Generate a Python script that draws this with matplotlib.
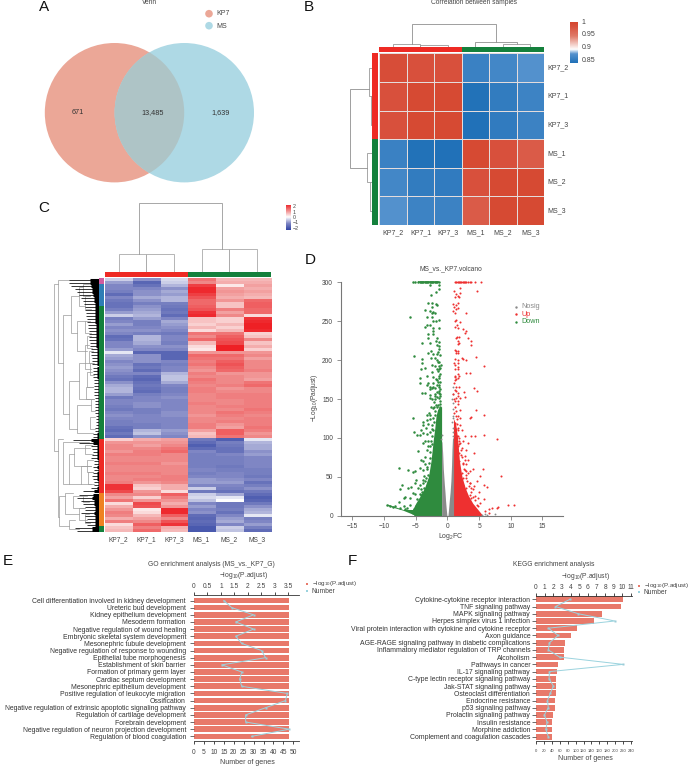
# -*- coding: utf-8 -*-
import matplotlib
matplotlib.use('Agg')
import matplotlib.pyplot as plt
from matplotlib.colors import LinearSegmentedColormap
from matplotlib.patches import Circle

plt.rcParams['font.family'] = ['Liberation Sans', 'DejaVu Sans']
plt.rcParams['mathtext.default'] = 'regular'
plt.rcParams['axes.linewidth'] = 0.6

W, H = 690, 767
TXT = '#444444'

# ---------- A venn ----------
venn_names = ['KP7', 'MS']
venn_counts = ['671', '13,485', '1,639']

# ---------- B correlation ----------
corr_labels_x = ['KP7_2', 'KP7_1', 'KP7_3', 'MS_1', 'MS_2', 'MS_3']
corr_labels_y = ['KP7_2', 'KP7_1', 'KP7_3', 'MS_1', 'MS_2', 'MS_3']
corr_kp7_2 = [0.99, 0.985, 0.985, 0.866, 0.872, 0.882]
corr_kp7_1 = [0.985, 0.995, 0.995, 0.851, 0.861, 0.868]
corr_kp7_3 = [0.985, 0.995, 0.995, 0.850, 0.860, 0.867]
corr_ms_1 = [0.866, 0.851, 0.850, 0.995, 0.985, 0.975]
corr_ms_2 = [0.872, 0.861, 0.860, 0.985, 0.995, 0.995]
corr_ms_3 = [0.882, 0.868, 0.867, 0.975, 0.995, 0.995]
corr_ticks = [1, 0.95, 0.9, 0.85]
corr_ticklabels = ['1', '0.95', '0.9', '0.85']

# ---------- C expression heatmap, rows top to bottom ----------
heat_labels = ['KP7_2', 'KP7_1', 'KP7_3', 'MS_1', 'MS_2', 'MS_3']
heat_rows_up = [
    [-0.4, -0.9, -0.3, 1.2, 0.6, 0.6], [-0.8, -1.5, -0.4, 1.0, 0.7, 0.7],
    [-1.0, -1.3, -0.6, 1.7, 0.2, 0.8], [-1.0, -1.0, -0.9, 1.9, 0.8, 0.7],
    [-1.1, -0.9, -0.7, 1.9, 0.9, 0.8], [-1.4, -0.9, -0.8, 1.7, 0.8, 0.7],
    [-1.0, -0.7, -0.6, 1.5, 0.7, 0.6], [-1.2, -0.9, -0.6, 1.3, 0.9, 1.3],
    [-1.3, -1.1, -1.1, 1.3, 0.5, 1.4], [-1.3, -0.9, -1.2, 1.4, 0.5, 1.4],
    [-1.1, -0.8, -1.3, 1.5, 1.1, 1.3], [-0.8, -0.7, -1.2, 1.8, 0.8, 1.3],
    [-0.4, -0.6, -1.4, 1.9, 1.0, 0.3], [-1.1, -0.8, -1.0, 0.5, 0.4, 1.8],
    [-1.0, -1.1, -0.7, 0.5, 0.4, 1.9], [-0.8, -1.1, -0.8, 0.4, 0.6, 2.0],
    [-1.0, -1.0, -0.9, 0.6, 0.4, 2.0], [-0.9, -0.9, -1.0, 0.3, 0.6, 1.9],
    [-1.0, -1.1, -1.2, 1.2, 1.2, 0.4], [-1.4, -0.6, -1.0, 1.0, 1.4, 0.5],
    [-1.3, -0.6, -1.0, 1.3, 1.5, 1.0], [-1.0, -0.7, -1.1, 0.6, 1.6, 0.5],
    [-1.0, -0.9, -0.9, 0.3, 2.0, 0.7], [-0.8, -1.0, -1.0, 0.2, 2.0, 0.4],
    [-0.2, -1.5, -1.5, 0.9, 0.9, 0.9], [-0.7, -0.9, -1.5, 1.3, 1.3, 1.0],
    [-0.8, -0.9, -1.5, 1.2, 1.2, 0.8], [-1.0, -0.9, -1.0, 1.1, 1.4, 1.0],
    [-0.9, -1.3, -1.1, 1.2, 1.5, 1.0], [-0.8, -1.2, -1.0, 1.0, 1.4, 1.0],
    [-0.9, -1.4, -1.0, 0.9, 1.3, 1.1], [-1.0, -1.0, -0.6, 1.1, 0.9, 0.9],
    [-1.2, -1.4, -0.5, 1.0, 1.0, 0.9], [-1.3, -1.5, -0.5, 1.2, 1.0, 0.8],
    [-0.9, -1.3, -0.7, 1.1, 1.0, 1.2], [-0.7, -1.2, -1.0, 1.0, 1.1, 1.3],
    [-0.6, -1.3, -1.1, 1.1, 0.9, 1.0], [-0.6, -1.4, -1.1, 1.1, 1.0, 1.0],
    [-0.8, -1.1, -1.0, 1.0, 1.1, 1.1], [-1.2, -1.0, -0.9, 1.0, 1.1, 1.1],
    [-1.0, -1.0, -1.0, 1.0, 1.0, 1.1], [-1.0, -0.9, -1.0, 1.1, 1.0, 1.1],
    [-1.1, -0.9, -1.0, 1.0, 1.1, 1.1], [-1.2, -1.1, -1.0, 1.0, 1.0, 1.2],
    [-1.0, -1.1, -0.9, 1.0, 1.2, 1.1], [-0.9, -1.0, -0.9, 0.9, 1.1, 1.0],
    [-1.0, -1.0, -1.0, 1.0, 1.0, 1.1], [-1.1, -1.0, -1.0, 1.0, 1.1, 1.1],
    [-1.1, -1.1, -1.0, 1.1, 0.9, 1.1], [-1.3, -1.1, -1.0, 1.1, 0.8, 1.2],
    [-1.4, -0.6, -0.8, 0.8, 1.4, 1.1], [-1.2, -0.5, -0.9, 0.5, 1.4, 0.9],
    [-1.4, -0.9, -1.0, 0.6, 1.2, 1.0],
]
heat_rows_down = [
    [0.4, 0.7, 0.8, -1.2, -1.6, -0.2], [0.9, 0.9, 0.9, -1.4, -1.1, -0.6],
    [1.0, 0.8, 1.0, -1.6, -1.2, -0.7], [1.0, 1.0, 1.2, -1.4, -1.3, -0.7],
    [0.9, 1.1, 1.3, -1.0, -1.3, -0.9], [1.1, 1.1, 1.0, -1.1, -1.0, -0.8],
    [1.0, 1.0, 1.0, -1.1, -1.1, -1.0], [1.0, 1.0, 1.0, -1.1, -1.1, -1.0],
    [1.1, 1.1, 0.9, -1.1, -1.1, -1.0], [1.0, 1.0, 1.0, -1.1, -1.2, -1.0],
    [1.0, 1.0, 1.0, -1.0, -1.1, -1.1], [1.1, 1.1, 1.0, -1.1, -1.0, -1.1],
    [1.0, 1.0, 1.1, -1.0, -1.0, -1.2], [1.0, 1.1, 1.1, -0.8, -0.9, -1.0],
    [1.1, 0.9, 1.0, -0.8, -0.8, -1.3], [1.8, 0.5, 0.7, -1.0, -1.0, -1.1],
    [1.8, 0.4, 0.7, -0.4, -1.1, -0.9], [1.6, 0.9, 0.3, -1.2, -1.3, -1.2],
]
heat_rows_mixed = [
    [1.0, 1.0, 1.4, -0.4, -0.7, -1.4], [0.8, 0.4, 1.1, -0.3, -0.2, -1.6],
    [1.2, 0.9, 0.9, -0.5, 0.0, -1.5], [0.3, 1.6, 0.7, -1.0, -1.2, -1.2],
    [0.7, 1.5, 0.9, -0.8, -1.2, -0.9], [0.9, 0.2, 1.9, -1.0, -1.1, -0.7],
    [1.1, 0.3, 1.9, -0.9, -1.3, -0.6], [1.0, 0.6, 1.4, -1.4, -1.0, -0.2],
    [0.7, 0.8, 1.0, -1.5, -0.8, -1.1], [1.1, 1.0, 1.5, -1.4, -0.7, -1.0],
    [0.3, 1.4, 1.8, -1.5, -1.0, -0.8], [0.5, 1.1, 0.7, -1.7, -0.4, -1.1],
    [0.6, 1.3, 0.6, -1.7, -0.5, -1.4],
]
heat_ticks = [2, 1, 0, -1, -2]
heat_ticklabels = ['2', '1', '0', '\u22121', '\u22122']
# row dendrogram: reach of the dense leaves per row, then merges (height, top row, bottom row, top child, bottom child)
leaf_reach = [30, 30, 28, 24, 22, 20, 18, 16, 15, 14, 14, 13, 13, 12, 12, 11, 11, 10, 10, 10, 10, 9, 9, 8, 8,
              8, 7, 7, 7, 6, 6, 6, 6, 5, 5, 5, 5, 5, 5, 4, 4, 4, 4, 4, 4, 3, 3, 3, 3, 4, 4, 6, 6, 26, 20,
              8, 7, 6, 7, 8, 5, 5, 6, 5, 6, 7, 6, 5, 5, 8, 16, 20, 22, 18, 16, 14, 14, 18, 14, 12, 14, 12, 24, 22]
heat_row_merges = [
    (45, 2, 57, 41, 41), (41, 0.5, 28, 30, 36), (36, 12, 45, 28, 30), (28, 6, 18, 20, 22),
    (22, 14, 24, 14, 12), (20, 3, 9, 16, 14), (30, 34, 50, 20, 22), (20, 28, 40, 10, 9),
    (22, 42, 51, 8, 6), (14, 22, 30, 10, 8), (41, 53, 79, 36, 40), (36, 54, 68, 10, 30),
    (30, 58, 68, 25, 18), (25, 56, 62, 9, 8), (18, 62, 68, 8, 8), (40, 72, 82, 34, 30),
    (34, 71, 78, 26, 20), (26, 72, 76, 16, 14), (20, 76, 80, 14, 12), (30, 80, 83, 24, 20),
    (16, 2, 6, 10, 9), (14, 6, 10, 9, 8), (14, 14, 18, 9, 8), (12, 19, 23, 8, 7), (10, 24, 28, 6, 6),
    (12, 31, 36, 7, 6), (13, 36, 40, 6, 5), (9, 28, 32, 5, 5), (8, 40, 44, 5, 4), (9, 46, 50, 4, 4),
    (14, 55, 58, 7, 6), (12, 60, 64, 6, 6), (11, 64, 68, 6, 5), (16, 72, 74, 12, 10), (14, 78, 81, 10, 9),
]

# ---------- D volcano ----------
top_down_x = [-5.4, -5.1, -4.6, -4.4, -4.2, -4.0, -3.8, -3.6, -3.4, -3.2, -3.0, -2.8, -2.6, -2.4, -2.2, -2.0, -1.8, -1.6, -1.4]
top_up_x = [1.2, 1.4, 1.6, 1.8, 2.0, 2.2, 2.4, 2.6, 2.8, 3.0, 3.2, 3.5, 3.8, 4.3, 5.3]
down_x = [-2.7, -1.4, -1.3, -1.8, -2.6, -3.1, -2.5, -1.8, -1.7, -2.4, -3.5, -2.7, -2.2, -2.5, -1.9, -5.9, -2.5, -3.3,
          -1.4, -1.8, -2.2, -2.8, -3.3, -2.2, -1.4, -3.5, -2.2, -3.0, -2.3, -3.0, -1.8, -1.4, -4.0, -2.7, -1.7, -1.4,
          -2.6, -3.0, -1.7, -1.2, -2.2, -5.3, -4.0, -2.6, -1.9, -1.5, -1.4, -4.0, -2.5, -1.0, -1.7, -4.2, -3.5, -2.4,
          -1.4, -3.3, -4.4, -2.2, -1.7, -1.4, -4.4, -3.0, -2.2, -1.4, -3.3, -2.7, -1.4, -1.2, -2.8, -2.5, -1.7, -4.0,
          -3.5, -2.8, -1.2, -1.9, -1.4, -2.8,
          -5.5, -3.8, -3.9, -3.2, -2.7, -1.9, -2.1, -1.2, -3.2, -5.3, -3.4, -4.3, -4.8, -3.8, -3.3, -4.2, -2.5, -2.7,
          -3.5, -3.9, -2.5, -2.2, -4.7, -3.0, -3.8, -4.2, -3.5, -3.2, -2.8, -7.6, -6.3, -5.1, -5.5, -4.3, -3.8, -3.2,
          -3.5, -7.1, -7.5, -5.0, -4.3, -3.9, -3.7, -5.1, -5.5, -5.1, -6.2, -5.8, -6.7, -4.6, -4.0, -3.3, -6.9, -5.9,
          -9.5, -9.0, -8.6, -8.3, -7.7, -7.5, -6.9, -6.4, -5.9, -6.7, -5.9, -5.5, -5.1, -4.8, -4.3,
          -1.3, -1.5, -1.9, -2.1, -1.2, -1.6, -1.4, -2.3, -1.7, -1.1, -1.3, -1.9, -1.5, -2.0, -1.2, -1.6, -2.4, -1.8,
          -1.4, -1.1, -2.2, -1.3, -1.7, -1.5, -2.6, -1.9, -1.2, -2.0, -1.4, -2.9, -1.6, -1.1, -2.3, -1.8, -1.3, -2.7,
          -1.5, -2.1, -1.2, -3.1,
          -4.8, -4.4, -4.1, -3.7, -3.4, -3.1, -2.9, -2.7, -2.5, -4.5, -3.9, -3.3, -2.8, -2.6, -2.4, -5.2, -4.9, -4.2,
          -3.6, -3.0]
down_y = [296, 296, 291, 288, 284, 273, 273, 272, 271, 268, 265, 263, 262, 261, 261, 256, 256, 256,
          251, 250, 250, 245, 245, 241, 241, 243, 237, 233, 233, 228, 225, 223, 222, 222, 220, 218,
          212, 209, 208, 207, 208, 205, 201, 203, 203, 197, 192, 196, 194, 194, 189, 188, 190, 185,
          188, 179, 177, 178, 175, 177, 171, 170, 170, 168, 168, 165, 165, 163, 163, 164, 159, 158,
          158, 155, 157, 154, 151, 151,
          126, 121, 117, 123, 130, 130, 140, 140, 130, 108, 113, 104, 104, 106, 105, 110, 117, 108,
          96, 93, 102, 110, 83, 96, 70, 72, 76, 85, 89, 61, 59, 58, 56, 61, 59, 63,
          66, 40, 34, 46, 39, 46, 51, 42, 29, 28, 36, 37, 24, 36, 31, 25, 23, 23,
          14, 13, 11, 13, 17, 10, 12, 10, 14, 8, 6, 3, 1, 12, 21,
          136, 142, 134, 146, 148, 152, 160, 138, 168, 172, 180, 150, 186, 156, 144, 140, 150, 176,
          132, 134, 166, 198, 200, 210, 140, 164, 182, 192, 214, 132, 228, 154, 126, 142, 158, 124,
          172, 120, 190, 118,
          22, 28, 34, 36, 48, 52, 68, 74, 92, 16, 42, 60, 82, 96, 112, 8, 12, 26,
          44, 90]
up_x = [2.0, 4.6, 1.05, 1.4, 2.0, 1.6, 1.2, 1.9, 1.7, 0.95, 1.4, 1.05, 1.6, 1.4, 0.95, 1.2, 2.9, 1.4, 1.2, 2.0,
        1.5, 1.2, 1.6, 2.4, 2.9, 2.8, 1.5, 1.9, 1.4, 3.2, 3.7, 1.7, 1.6, 1.9, 3.7, 1.2, 1.6, 1.4, 1.7, 4.5,
        2.3, 1.2, 1.6, 2.4, 2.9, 5.7, 1.2, 1.6, 1.7, 1.2, 3.5, 3.0, 1.7, 1.2, 1.6, 1.9, 1.2, 4.2, 4.7, 1.4,
        1.9, 2.6, 2.8, 1.7, 1.2, 1.6, 1.4, 2.0, 0.95,
        4.5, 5.8, 3.8, 3.6, 1.2, 1.7, 1.4, 2.0, 1.6, 2.0, 1.2, 1.7, 2.3, 3.8, 4.3, 5.7, 7.8, 2.8, 1.9, 1.5,
        2.5, 3.3, 2.0, 3.0, 2.3, 1.7, 4.2, 2.8, 3.3, 2.3, 1.9, 3.0, 2.5, 4.1, 5.6, 2.8, 3.6, 3.3, 5.2, 8.4,
        2.3, 2.5, 4.7, 3.0, 4.2, 5.8, 6.3, 3.6, 3.8, 5.0, 2.5, 3.0, 5.7, 4.4, 4.9, 3.6, 3.8, 7.0, 7.8, 9.6,
        10.5, 8.0, 6.5, 5.9, 5.2, 4.6, 3.6, 6.5,
        1.1, 1.3, 1.5, 1.7, 1.9, 2.1, 1.2, 1.4, 1.6, 1.8, 2.2, 2.4, 2.0, 1.1, 1.3, 1.5, 1.0, 1.8,
        2.6, 2.9, 3.1, 3.4, 3.7, 4.1, 4.4, 2.7, 3.0, 3.5, 4.0, 4.8, 1.2, 1.4, 1.1, 1.6, 1.3, 1.7]
up_y = [293, 289, 289, 285, 286, 282, 281, 281, 273, 272, 271, 268, 267, 266, 263, 261, 261, 252, 250, 249,
        245, 243, 241, 240, 237, 235, 230, 230, 228, 228, 225, 225, 221, 222, 220, 213, 212, 209, 209, 204,
        203, 201, 200, 201, 200, 192, 194, 191, 188, 188, 184, 183, 182, 178, 177, 179, 175, 164, 160, 166,
        166, 159, 153, 158, 161, 154, 151, 151, 156,
        136, 129, 127, 126, 147, 143, 134, 136, 128, 126, 119, 113, 110, 103, 102, 104, 99, 102, 100, 103,
        96, 93, 93, 85, 87, 89, 81, 77, 72, 76, 81, 66, 68, 60, 60, 59, 57, 55, 51, 51,
        55, 48, 45, 48, 38, 39, 37, 42, 36, 30, 40, 36, 21, 25, 23, 27, 23, 10, 10, 14,
        14, 11, 8, 6, 16, 14, 16, 4,
        132, 128, 118, 110, 96, 84, 140, 112, 102, 92, 78, 66, 116, 150, 160, 124, 170, 70,
        60, 52, 44, 38, 30, 24, 20, 72, 58, 42, 34, 12, 180, 176, 196, 196, 212, 148]
nosig_x = [0.85, 0.95, 0.8, 0.9, 0.85, 0.9, 0.8, 0.85, 0.95, 0.9, 0.85, 7.5, 6.2, 5.4, 5.9, -0.95, -0.9]
nosig_y = [166, 156, 150, 145, 137, 128, 120, 113, 126, 108, 103, 2, 1, 1, 2, 98, 104]
# outline of the solid clouds
down_edge_x = [-9.5, -7.0, -5.5, -5.0, -4.4, -3.6, -3.0, -2.6, -2.2, -2.0, -1.8, -1.6, -1.3, -0.92]
down_edge_lo = [13, 7, 2, 0, 0, 0, 0, 0, 0, 0, 0, 0, 0, 0]
down_edge_hi = [15, 8, 8, 16, 24, 36, 50, 70, 100, 112, 128, 135, 140, 140]
up_edge_x = [0.95, 1.3, 1.6, 1.9, 2.3, 2.8, 3.3, 4.0, 5.0, 5.5]
up_edge_hi = [125, 118, 100, 70, 50, 36, 26, 16, 6, 1]
nosig_left_y = [0, 10, 20, 30, 40, 60, 80, 95]
nosig_left_in = [-0.08, -0.2, -0.3, -0.38, -0.48, -0.65, -0.75, -0.85]
nosig_right_y = [0, 10, 20, 30, 45, 65, 85, 100]
nosig_right_in = [0.08, 0.2, 0.3, 0.42, 0.55, 0.65, 0.72, 0.8]

# ---------- E GO ----------
go_terms = ['Cell differentiation involved in kidney development', 'Ureteric bud development',
            'Kidney epithelium development', 'Mesoderm formation', 'Negative regulation of wound healing',
            'Embryonic skeletal system development', 'Mesonephric tubule development',
            'Negative regulation of response to wounding', 'Epithelial tube morphogenesis',
            'Establishment of skin barrier', 'Formation of primary germ layer', 'Cardiac septum development',
            'Mesonephric epithelium development', 'Positive regulation of leukocyte migration', 'Ossification',
            'Negative regulation of extrinsic apoptotic signaling pathway', 'Regulation of cartilage development',
            'Forebrain development', 'Negative regulation of neuron projection development',
            'Regulation of blood coagulation']
go_padj = [3.54] * 20
go_genes = [15, 19, 30, 21, 30, 21, 24, 34, 36, 14, 24, 23, 24, 47, 46, 36, 26, 26, 48, 29]
go_top_ticks = [0, 0.5, 1, 1.5, 2, 2.5, 3, 3.5]
go_bottom_ticks = [0, 5, 10, 15, 20, 25, 30, 35, 40, 45, 50]

# ---------- F KEGG ----------
kegg_terms = ['Cytokine-cytokine receptor interaction', 'TNF signaling pathway', 'MAPK signaling pathway',
              'Herpes simplex virus 1 infection', 'Viral protein interaction with cytokine and cytokine receptor',
              'Axon guidance', 'AGE-RAGE signaling pathway in diabetic complications',
              'Inflammatory mediator regulation of TRP channels', 'Alcoholism', 'Pathways in cancer',
              'IL-17 signaling pathway', 'C-type lectin receptor signaling pathway', 'Jak-STAT signaling pathway',
              'Osteoclast differentiation', 'Endocrine resistance', 'p53 signaling pathway',
              'Prolactin signaling pathway', 'Insulin resistance', 'Morphine addiction',
              'Complement and coagulation cascades']
kegg_padj = [10.08, 9.85, 7.64, 6.76, 4.75, 4.09, 3.36, 3.24, 3.2, 2.51, 2.47, 2.28, 2.28, 2.28, 2.24, 2.2, 1.93, 1.85, 1.81, 1.81]
kegg_genes = [86, 49, 107, 199, 31, 56, 34, 31, 60, 220, 34, 33, 44, 36, 29, 31, 21, 28, 25, 31]
kegg_top_ticks = list(range(0, 12))
kegg_bottom_ticks = list(range(0, 260, 20))

SALMON = '#E8796A'
AQUA = '#9BD3DE'
LOG_P = r'$-log_{10}$(P.adjust)'

fig = plt.figure(figsize=(W / 100, H / 100), dpi=100)


def box(x0, y0, x1, y1):
    # axes from a pixel box, y counted from the top of the picture
    return fig.add_axes([x0 / W, 1 - y1 / H, (x1 - x0) / W, (y1 - y0) / H])


def txt(x, y, s, size=5, ha='center', va='center', **kw):
    kw.setdefault('color', TXT)
    return fig.text(x / W, 1 - y / H, s, fontsize=size, ha=ha, va=va, **kw)


def bracket(ax, pos0, pos1, height, h0, h1, horizontal, color='#8f8f8f', lw=0.6):
    # one dendrogram merge, horizontal=True for trees that hang from the top
    if horizontal:
        ax.plot([pos0, pos0, pos1, pos1], [h0, height, height, h1], color=color, lw=lw, solid_joinstyle='miter')
    else:
        ax.plot([h0, height, height, h1], [pos0, pos0, pos1, pos1], color=color, lw=lw, solid_joinstyle='miter')


def clean(ax):
    ax.set_xticks([])
    ax.set_yticks([])
    for s in ax.spines.values():
        s.set_visible(False)


for label, x, y in [('A', 44, 7), ('B', 309, 7), ('C', 44, 208), ('D', 310, 260), ('E', 8, 561), ('F', 352, 561)]:
    txt(x, y, label, size=11, color='#111111')

# A
ax = box(30, 30, 270, 195)
clean(ax)
ax.set_xlim(30, 270)
ax.set_ylim(195, 30)
left = Circle((114.5, 112.7), 69.7, fc='#EBA797', ec='none')
right = Circle((184.3, 112.7), 69.7, fc='#AED9E5', ec='none')
ax.add_patch(left)
ax.add_patch(right)
both = Circle((184.3, 112.7), 69.7, fc='#AEC4C6', ec='none')
ax.add_patch(both)
both.set_clip_path(left)
for c, x in zip(venn_counts, [78, 153, 221]):
    ax.text(x, 112.7, c, fontsize=5.2, ha='center', va='center', color='#333333')
txt(149.7, 3, 'Venn', size=4.8)
ax = box(200, 6, 235, 32)
clean(ax)
ax.set_xlim(200, 235)
ax.set_ylim(32, 6)
ax.scatter([209, 209], [13.7, 25.7], s=30, c=['#EBA797', '#AED9E5'], linewidths=0)
for n, y in zip(venn_names, [13.2, 26]):
    ax.text(216.7, y, n, fontsize=5, va='center', color=TXT)

# B
corr_cmap = LinearSegmentedColormap.from_list('corr', [(0, '#2171B8'), (0.22, '#5592CE'), (0.33, '#FFFFFF'),
                                                       (0.66, '#E07A68'), (0.9, '#D8503C'), (1, '#D5472F')])
corr = [corr_kp7_2, corr_kp7_1, corr_kp7_3, corr_ms_1, corr_ms_2, corr_ms_3]
ax = box(379.3, 53.3, 544, 225)
ax.pcolormesh(corr, cmap=corr_cmap, vmin=0.85, vmax=1, edgecolors='#e4dcdc', linewidth=0.5)
ax.invert_yaxis()
clean(ax)
for i, s in enumerate(corr_labels_y):
    txt(547.7, 53.3 + 28.6 * (i + 0.5), s, size=5, ha='left')
for i, s in enumerate(corr_labels_x):
    txt(379.3 + 27.45 * (i + 0.5), 233, s, size=5)
txt(473.7, 3, 'Correlation between samples', size=4.8)

ax = box(379.3, 46.7, 544, 52)
clean(ax)
ax.barh(0, 3, left=0, height=1, color='#EE2A24')
ax.barh(0, 3, left=3, height=1, color='#14803C')
ax.set_xlim(0, 6)
ax.set_ylim(-0.5, 0.5)
ax = box(372.3, 53.3, 377.7, 225)
clean(ax)
ax.bar(0, 3, bottom=0, width=1, color='#EE2A24')
ax.bar(0, 3, bottom=3, width=1, color='#14803C')
ax.set_xlim(-0.5, 0.5)
ax.set_ylim(6, 0)

ax = box(379.3, 20, 544, 46.7)
clean(ax)
ax.set_xlim(0, 6)
ax.set_ylim(0, 26.7)
bracket(ax, 0.5, 1.5, 2.7, 0, 0, True, '#999999')
bracket(ax, 1.5, 2.5, 1.7, 0, 0, True, '#999999')
bracket(ax, 3.5, 5.0, 5, 0, 2.7, True)
bracket(ax, 4.5, 5.5, 2.7, 0, 0, True, '#999999')
bracket(ax, 1.2, 4.25, 23, 2.7, 5, True)
ax = box(349, 53.3, 372.3, 225)
clean(ax)
ax.set_xlim(23.3, 0)
ax.set_ylim(6, 0)
bracket(ax, 0.5, 1.5, 3, 0, 1.5, False, '#999999')
bracket(ax, 1.5, 2.5, 1.5, 0, 0, False, '#999999')
bracket(ax, 3.5, 4.5, 5.5, 0, 2.5, False, '#999999')
bracket(ax, 4.5, 5.5, 2.5, 0, 0, False, '#999999')
bracket(ax, 1.25, 4.0, 22, 3, 5.5, False)

ax = box(570, 22, 578, 62.7)
clean(ax)
ax.imshow([[1 - i / 99] for i in range(100)], cmap=corr_cmap, aspect='auto', extent=[0, 1, 0.84, 1.001])
ax.set_ylim(0.84, 1.001)
ax.set_xlim(0, 1)
for v, s in zip(corr_ticks, corr_ticklabels):
    y = 22 + (1.001 - v) / 0.161 * 40.7
    txt(581.7, y, s, size=5, ha='left')

# C
heat_cmap = LinearSegmentedColormap.from_list('heat', [(0, '#3346A5'), (0.25, '#7F86C4'), (0.5, '#FFFFFF'),
                                                       (0.75, '#F08A8A'), (1, '#EE2025')])
heat = heat_rows_up + heat_rows_down + heat_rows_mixed
ax = box(104.7, 278.3, 270.7, 532.3)
ax.imshow(heat, cmap=heat_cmap, vmin=-2, vmax=2, aspect='auto', interpolation='nearest')
clean(ax)
for i, s in enumerate(heat_labels):
    txt(104.7 + 27.67 * (i + 0.5), 540, s, size=4.8)

ax = box(104.7, 272.3, 270.7, 276.7)
clean(ax)
ax.barh(0, 3, left=0, height=1, color='#EE2A24')
ax.barh(0, 3, left=3, height=1, color='#14803C')
ax.set_xlim(0, 6)
ax.set_ylim(-0.5, 0.5)

ax = box(99, 278.3, 103.7, 532.3)
clean(ax)
side_colors = ['#D05CA0', '#2E7DB5', '#14803C', '#EE2A24', '#EE8222', '#14803C']
side_sizes = [2, 7, 44, 18, 11, 2]
start = 0
for col, n in zip(side_colors, side_sizes):
    ax.bar(0, n, bottom=start, width=1, color=col)
    start += n
ax.set_xlim(-0.5, 0.5)
ax.set_ylim(84, 0)

ax = box(50, 278.3, 99, 532.3)
clean(ax)
ax.set_xlim(49, 0)
ax.set_ylim(84, 0)
row_centers = [i + 0.5 for i in range(len(leaf_reach))]
for height, r0, r1, h0, h1 in heat_row_merges:
    bracket(ax, r0, r1, height, h0, h1, False, '#9a9a9a', 0.5)
ax.hlines(row_centers, 0, leaf_reach, color='#000000', lw=0.55)
ax.hlines(row_centers, 0, [r * 0.3 for r in leaf_reach], color='#000000', lw=2.2)

ax = box(104.7, 200, 270.7, 272.3)
clean(ax)
ax.set_xlim(0, 6)
ax.set_ylim(0, 72.3)
bracket(ax, 0.5, 1.5, 18.5, 0, 0, True, '#aaaaaa')
bracket(ax, 1.5, 2.5, 18, 0, 0, True, '#aaaaaa')
bracket(ax, 3.5, 4.5, 23.5, 0, 0, True, '#aaaaaa')
bracket(ax, 4.5, 5.5, 23.5, 0, 0, True, '#aaaaaa')
bracket(ax, 1.25, 4.25, 69, 18.5, 23.5, True, '#999999')

ax = box(286, 205, 291, 230)
clean(ax)
ax.imshow([[2 - 4 * i / 49] for i in range(50)], cmap=heat_cmap, vmin=-2, vmax=2, aspect='auto')
for v, s in zip(heat_ticks, heat_ticklabels):
    txt(293, 217.5 - v * 5.4, s, size=3.8, ha='left')

# D
ax = box(340.7, 282.3, 562.7, 515.7)
ax.set_xlim(-16.85, 18.2)
ax.set_ylim(0, 300)
for s in ['top', 'right']:
    ax.spines[s].set_visible(False)
for s in ['left', 'bottom']:
    ax.spines[s].set_color('#777777')
    ax.spines[s].set_linewidth(0.8)
ax.fill_between(down_edge_x, down_edge_lo, down_edge_hi, color='#2F8B3E', lw=0)
ax.fill_between(up_edge_x, 0, up_edge_hi, color='#EE3030', lw=0)
ax.fill_betweenx(nosig_left_y, nosig_left_in, -0.92, color='#8a8a8a', lw=0)
ax.fill_betweenx(nosig_right_y, nosig_right_in, 0.97, color='#8a8a8a', lw=0)
ax.scatter(nosig_x, nosig_y, s=1.8, c='#8a8a8a', linewidths=0, clip_on=False)
ax.scatter(down_x, down_y, s=3.2, c='#2F8B3E', linewidths=0, clip_on=False)
ax.scatter(top_down_x, [300] * len(top_down_x), s=3.2, c='#2F8B3E', linewidths=0, clip_on=False)
ax.plot([-4.6, -1.4], [300, 300], color='#2F8B3E', lw=1.1, solid_capstyle='butt', clip_on=False)
ax.scatter(up_x, up_y, s=2.2, c='#EE3030', linewidths=0, clip_on=False)
ax.scatter(top_up_x, [300] * len(top_up_x), s=2.2, c='#EE3030', linewidths=0, clip_on=False)
ax.plot([1.2, 3.0], [300, 300], color='#EE3030', lw=1.0, solid_capstyle='butt', clip_on=False)
ax.set_xticks([-15, -10, -5, 0, 5, 10, 15])
ax.set_xticklabels(['\u221215', '\u221210', '\u22125', '0', '5', '10', '15'])
ax.set_yticks([0, 50, 100, 150, 200, 250, 300])
ax.tick_params(labelsize=4.8, length=3, width=0.5, color='#666666', labelcolor=TXT, pad=2.5)
txt(451.3, 269, 'MS_vs._KP7.volcano', size=4.8)
txt(451.3, 536.7, r'$Log_2$FC', size=5)
txt(314.3, 398, r'$-Log_{10}$(Padjust)', size=4.8, rotation=90)
for name, col, y in [('Nosig', '#8a8a8a', 306.7), ('Up', '#EE3030', 314), ('Down', '#2F8B3E', 321.7)]:
    ax.scatter([(515.7 - 447.3) / 6.34], [(515.7 - y) / 0.778], s=3, c=col, linewidths=0)
    txt(521.7, y, name, size=5.2, ha='left', color=col)


def enrich(ax_box, terms, padj, genes, top_ticks, bottom_ticks, p_per, g_per, row0, row_step, tick_size, label_pad):
    x0, y0, x1, y1 = ax_box
    ax = box(x0, y0, x1, y1)
    rows = list(range(len(terms)))
    ax.barh(rows, padj, height=0.79, color=SALMON, zorder=1)
    ax.set_xlim(0, (x1 - x0) / p_per)
    ax.set_ylim((y1 - row0) / row_step, (y0 - row0) / row_step)
    ax.set_yticks(rows)
    ax.set_yticklabels(terms, fontsize=4.93, color='#333333')
    ax.tick_params(axis='y', length=3, width=0.5, pad=label_pad, color='#333333')
    ax2 = ax.twiny()
    # twiny moves the first axes' ticks back to the bottom, so set the sides after it
    ax.xaxis.tick_top()
    ax.set_xticks(top_ticks)
    ax.set_xticklabels([('%g' % t) for t in top_ticks], fontsize=4.8, color=TXT)
    ax.tick_params(axis='x', length=2.2, width=0.5, pad=1.6)
    for s in ['left', 'right', 'bottom']:
        ax.spines[s].set_visible(False)
    ax.spines['top'].set_color('#333333')
    ax2.plot(genes, rows, color=AQUA, lw=0.7, marker='s', ms=2.1, mec='none', mfc='#9CCDD8', zorder=3, clip_on=False)
    ax2.set_xlim(0, (x1 - x0) / g_per)
    ax2.set_ylim(ax.get_ylim())
    ax2.xaxis.tick_bottom()
    ax2.set_xticks(bottom_ticks)
    ax2.set_xticklabels([str(t) for t in bottom_ticks], fontsize=tick_size, color=TXT)
    ax2.tick_params(axis='x', length=2.2, width=0.5, pad=3.6)
    for s in ['left', 'right', 'top']:
        ax2.spines[s].set_visible(False)
    ax2.spines['bottom'].set_color('#333333')
    return ax


# E
enrich((194, 595, 298.7, 741), go_terms, go_padj, go_genes, go_top_ticks, go_bottom_ticks,
       26.95, 1.987, 600.5, 7.15, 4.8, 2.8)
txt(211.7, 565, 'GO enrichment analysis (MS_vs._KP7_G)', size=4.9)
txt(243, 575.7, LOG_P, size=4.9)
txt(247, 762.7, 'Number of genes', size=5.1)
txt(311.7, 583.6, LOG_P, size=4.5, ha='left')
txt(311.7, 591.2, 'Number', size=4.8, ha='left')
ax = box(303, 581, 310, 594)
clean(ax)
ax.set_xlim(303, 310)
ax.set_ylim(594, 581)
ax.scatter([306.7], [584.3], s=3.5, marker='s', c=SALMON, linewidths=0)
ax.scatter([306.7], [590.7], s=3, marker='s', c=AQUA, linewidths=0)

# F
enrich((536, 596, 631.7, 741), kegg_terms, kegg_padj, kegg_genes, kegg_top_ticks, kegg_bottom_ticks,
       8.636, 0.396, 599.3, 7.23, 3, 1.2)
txt(553.7, 565, 'KEGG enrichment analysis', size=4.9)
txt(585, 576, LOG_P, size=4.9)
txt(585, 759, 'Number of genes', size=5.1)
txt(644, 585.0, LOG_P, size=4.5, ha='left')
txt(644, 592.2, 'Number', size=4.8, ha='left')
ax = box(635, 582, 643, 595)
clean(ax)
ax.set_xlim(635, 643)
ax.set_ylim(595, 582)
ax.scatter([639], [585.7], s=3.5, marker='s', c=SALMON, linewidths=0)
ax.scatter([639], [591.7], s=3, marker='s', c=AQUA, linewidths=0)

fig.savefig('out.png', dpi=100)
